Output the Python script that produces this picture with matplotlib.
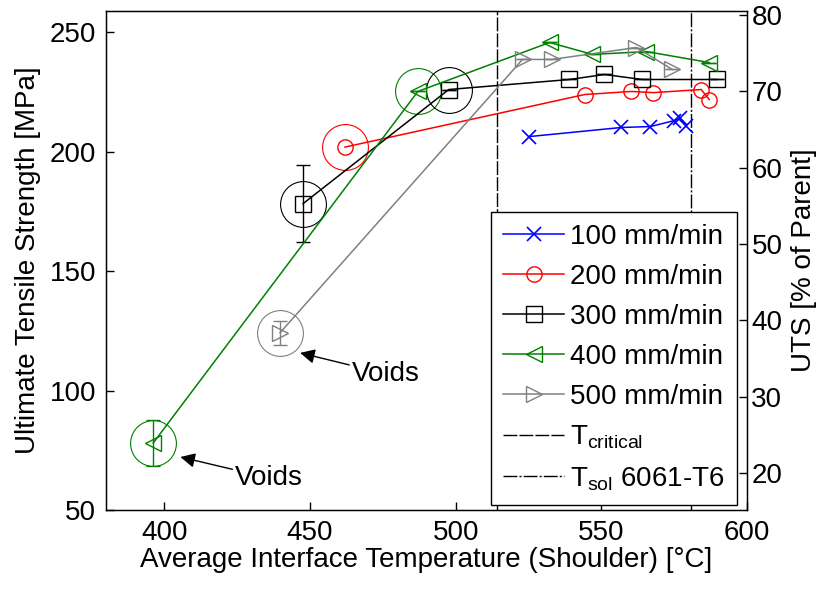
import matplotlib
matplotlib.use("Agg")
import matplotlib.pyplot as plt
from matplotlib.lines import Line2D

plt.rcParams['font.family'] = ['Liberation Sans', 'DejaVu Sans']
plt.rcParams['font.size'] = 20
plt.rcParams['mathtext.default'] = 'regular'

# data (temperature degC, UTS MPa)
t100 = [525.3, 556.8, 566.8, 575.0, 577.0, 579.1]
u100 = [206.4, 210.2, 210.6, 213.1, 214.0, 211.0]

t200 = [462.0, 544.2, 560.3, 567.8, 584.2, 587.0]
u200 = [202.0, 224.0, 225.3, 224.8, 226.1, 221.9]

t300 = [447.6, 497.6, 539.0, 551.0, 564.0, 589.7]
u300 = [178.3, 226.1, 230.3, 232.4, 230.3, 230.3]
e300 = [16.0, 0, 0, 0, 0, 0]

t400 = [396.2, 487.0, 532.2, 546.9, 565.4, 587.0]
u400 = [78.1, 225.3, 245.8, 240.8, 242.0, 237.4]
e400 = [9.5, 0, 0, 0, 0, 0]

t500 = [439.7, 522.9, 532.9, 562.0, 574.3]
u500 = [124.2, 238.7, 238.7, 243.7, 234.5]
e500 = [5.0, 0, 0, 0, 0]

# circled points
ring_t = [396.2, 439.7, 447.6, 462.0, 487.0, 497.6]
ring_u = [78.1, 124.2, 178.3, 202.0, 225.3, 226.1]
ring_c = ['#008000', '#808080', 'black', '#ff0000', '#008000', 'black']

t_crit = 514.0
t_sol = 580.8

labels = ['100 mm/min', '200 mm/min', '300 mm/min', '400 mm/min', '500 mm/min']

fig = plt.figure(figsize=(8.22, 5.90), dpi=100)
ax = fig.add_axes([0.129, 0.1356, 0.78, 0.8458])

ax.axvline(t_crit, color='black', lw=1.0, ls=(0, (10, 1.5)), zorder=1)
ax.axvline(t_sol, color='black', lw=1.0, ls=(0, (10, 1.5, 1.5, 1.5)), zorder=1)

ax.plot(t100, u100, color='#0000ff', marker='x', ms=10, mew=1.2, lw=1.1)
ax.plot(t200, u200, color='#ff0000', marker='o', ms=11, mfc='none', mew=1.0, lw=1.1)
ax.errorbar(t300, u300, yerr=e300, color='black', marker='s', ms=11, mfc='none',
            mew=1.0, lw=1.1, capsize=5, elinewidth=1.0)
ax.errorbar(t400, u400, yerr=e400, color='#008000', marker='<', ms=12, mfc='none',
            mew=1.0, lw=1.1, capsize=5, elinewidth=1.0)
ax.errorbar(t500, u500, yerr=e500, color='#808080', marker='>', ms=12, mfc='none',
            mew=1.0, lw=1.1, capsize=5, elinewidth=1.0)

for t, u, c in zip(ring_t, ring_u, ring_c):
    ax.plot(t, u, marker='o', ms=33, mfc='none', mec=c, mew=0.8, ls='none')

arrow = dict(arrowstyle='-|>', color='black', lw=1.0, mutation_scale=22, shrinkA=0, shrinkB=0)
ax.annotate('Voids', xy=(446.6, 115.8), xytext=(464.4, 107), va='center', ha='left',
            arrowprops=arrow)
ax.annotate('Voids', xy=(405.5, 72.2), xytext=(424.3, 63.4), va='center', ha='left',
            arrowprops=arrow)

ax.set_xlim(380, 600)
ax.set_ylim(50, 259)
ax.set_xticks([400, 450, 500, 550, 600])
ax.set_yticks([50, 100, 150, 200, 250])
ax.tick_params(direction='in', length=6, width=1.0, pad=7)
ax.set_xlabel('Average Interface Temperature (Shoulder) [°C]', labelpad=1)
ax.set_ylabel('Ultimate Tensile Strength [MPa]', labelpad=6)
for s in ax.spines.values():
    s.set_linewidth(1.0)

ax2 = ax.twinx()
ax2.set_ylim(15.15, 80.52)
ax2.set_yticks([20, 30, 40, 50, 60, 70, 80])
ax2.tick_params(direction='in', length=6, width=1.0, pad=3)
ax2.set_ylabel('UTS [% of Parent]', rotation=90, labelpad=6)

handles = [
    Line2D([], [], color='#0000ff', marker='x', ms=10, mew=1.2, lw=1.1),
    Line2D([], [], color='#ff0000', marker='o', ms=11, mfc='none', lw=1.1),
    Line2D([], [], color='black', marker='s', ms=11, mfc='none', lw=1.1),
    Line2D([], [], color='#008000', marker='<', ms=12, mfc='none', lw=1.1),
    Line2D([], [], color='#808080', marker='>', ms=12, mfc='none', lw=1.1),
    Line2D([], [], color='black', lw=1.0, ls=(0, (10, 1.5))),
    Line2D([], [], color='black', lw=1.0, ls=(0, (10, 1.5, 1.5, 1.5))),
]
leg_labels = labels + ['T$_{critical}$', 'T$_{sol}$ 6061-T6']
leg = ax2.legend(handles, leg_labels, loc='lower right', bbox_to_anchor=(0.984, 0.01),
                 borderaxespad=0, fancybox=False, framealpha=1, edgecolor='black',
                 handlelength=2.2, handletextpad=0.2, labelspacing=0.5, borderpad=0.45)
leg.get_frame().set_linewidth(1.0)

fig.savefig('out.png', dpi=100)
